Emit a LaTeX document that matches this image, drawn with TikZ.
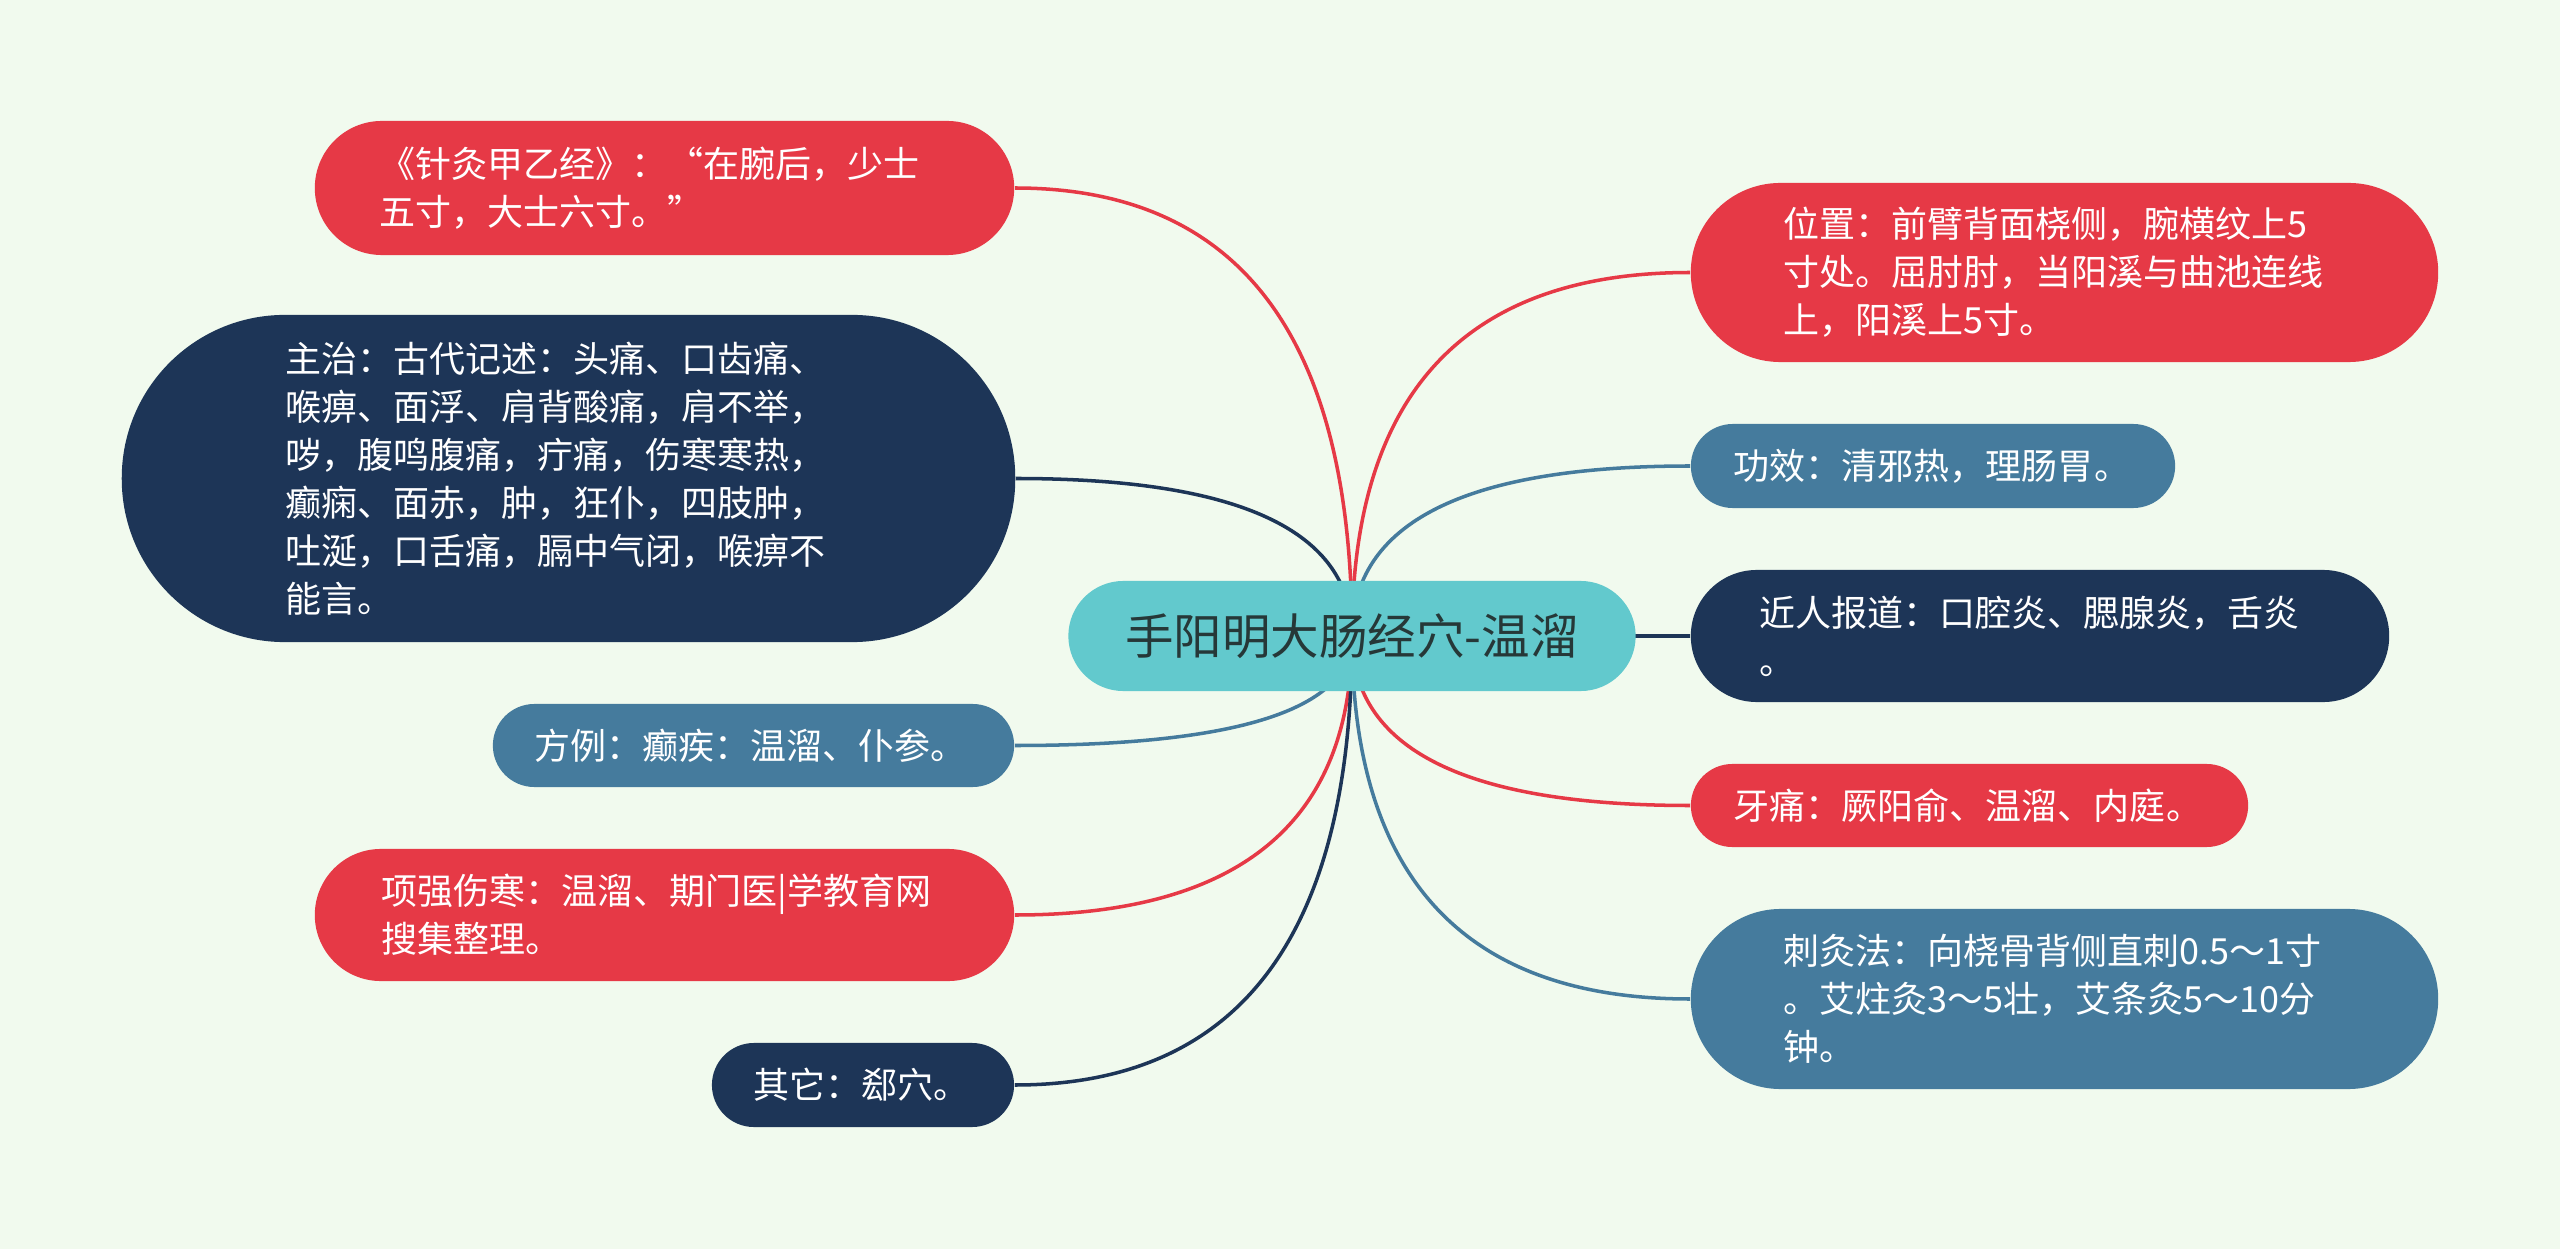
\documentclass[tikz,border=0pt]{standalone}
\usepackage{fontspec}
\newfontfamily\cjkfont{Noto Sans CJK SC}
\usetikzlibrary{calc,backgrounds}
\definecolor{bgc}{HTML}{F1FAEE}
\definecolor{cred}{HTML}{E63946}
\definecolor{cnavy}{HTML}{1D3557}
\definecolor{cblue}{HTML}{457B9D}
\definecolor{cteal}{HTML}{62C9CD}
\definecolor{ctext}{HTML}{263838}
\begin{document}
\begin{tikzpicture}[x=0.01cm,y=-0.01cm,
  leaf/.style={text=white, align=left, font=\cjkfont\fontsize{10.24}{13.66}\selectfont, inner ysep=0pt},
  rednode/.style={leaf, fill=cred},
  navynode/.style={leaf, fill=cnavy},
  bluenode/.style={leaf, fill=cblue},
  box/.style n args={4}{text width=#1, inner xsep=#2, minimum height=#3, rounded corners=#4},
  link/.style={line width=1pt}]
\begin{scope}[on background layer]
\fill[bgc] (0,0) rectangle (2560,1249);
\end{scope}
\useasboundingbox (0,0) rectangle (2560,1249);

\node[fill=cteal, text=ctext, font=\cjkfont\fontsize{13.8}{16}\selectfont,
  minimum width=5.67cm, minimum height=1.10cm, rounded corners=0.55cm, inner sep=0pt]
  (c) at (1352,636) {手阳明大肠经穴-温溜};

% left
\node[rednode, box={5.69cm}{0.65cm}{1.34cm}{0.67cm}] (n1) at (664.5,188)
  {《针灸甲乙经》：“在腕后，少士\\五寸，大士六寸。”};
\node[navynode, box={5.65cm}{1.64cm}{3.27cm}{1.63cm}] (n2) at (568.5,478.5)
  {主治：古代记述：头痛、口齿痛、\\喉痹、面浮、肩背酸痛，肩不举，\\哕，腹鸣腹痛，疔痛，伤寒寒热，\\癫痫、面赤，肿，狂仆，四肢肿，\\吐涎，口舌痛，膈中气闭，喉痹不\\能言。};
\node[bluenode, box={4.37cm}{0.42cm}{0.83cm}{0.415cm}] (n3) at (753.5,745.5)
  {方例：癫疾：温溜、仆参。};
\node[rednode, box={5.65cm}{0.67cm}{1.32cm}{0.66cm}] (n4) at (664.5,915)
  {项强伤寒：温溜、期门医|学教育网\\搜集整理。};
\node[navynode, box={2.18cm}{0.42cm}{0.84cm}{0.42cm}] (n5) at (863,1085)
  {其它：郄穴。};

% right
\node[rednode, box={5.61cm}{0.93cm}{1.79cm}{0.895cm}] (n6) at (2064.5,272.5)
  {位置：前臂背面桡侧，腕横纹上5\\寸处。屈肘肘，当阳溪与曲池连线\\上，阳溪上5寸。};
\node[bluenode, box={3.98cm}{0.43cm}{0.84cm}{0.42cm}] (n7) at (1933,466)
  {功效：清邪热，理肠胃。};
\node[navynode, box={5.60cm}{0.69cm}{1.32cm}{0.66cm}] (n8) at (2040,636)
  {近人报道：口腔炎、腮腺炎，舌炎\\。};
\node[rednode, box={4.71cm}{0.43cm}{0.83cm}{0.415cm}] (n9) at (1969.5,805.5)
  {牙痛：厥阳俞、温溜、内庭。};
\node[bluenode, box={5.61cm}{0.93cm}{1.80cm}{0.90cm}] (n10) at (2064.5,999)
  {刺灸法：向桡骨背侧直刺0.5～1寸\\。艾炷灸3～5壮，艾条灸5～10分\\钟。};

\begin{scope}[on background layer]
\foreach \n/\a/\col in {n1/east/cred, n2/east/cnavy, n3/east/cblue, n4/east/cred, n5/east/cnavy,
                       n6/west/cred, n7/west/cblue, n8/west/cnavy, n9/west/cred, n10/west/cblue}{
  \draw[link, \col] (c.center)
    .. controls ($(c.center)!0.6667!(c.center |- \n.\a)$) and ($(\n.\a)!0.6667!(c.center |- \n.\a)$)
    .. (\n.\a);
}
\end{scope}
\end{tikzpicture}
\end{document}
